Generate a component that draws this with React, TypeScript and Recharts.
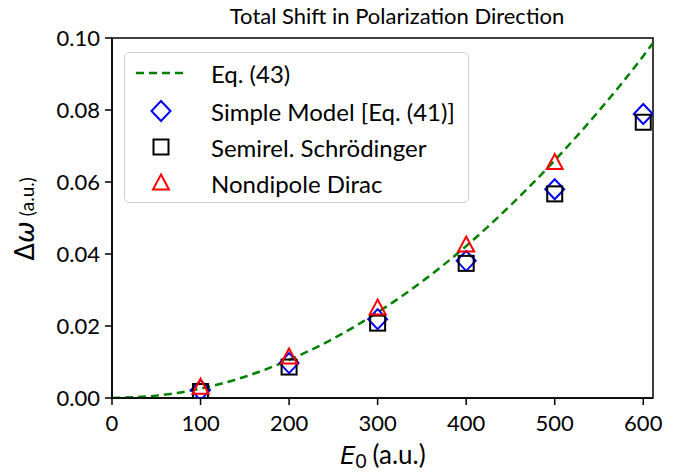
import React from 'react';
import {
  ComposedChart,
  Line,
  Scatter,
  XAxis,
  YAxis,
  ReferenceArea,
} from 'recharts';

// Eq. (43) curve
const curveX = [0, 50, 100, 150, 200, 250, 300, 350, 400, 450, 500, 550, 600, 611];
const curveY = [0, 0.00066, 0.0026, 0.0059, 0.0106, 0.0165, 0.0238, 0.0323, 0.0422, 0.0535, 0.066, 0.0798, 0.095, 0.0986];

// field strengths for the markers
const fieldX = [100, 200, 300, 400, 500, 600];
const simpleModel = [0.0022, 0.0097, 0.0219, 0.0381, 0.058, 0.0789];
const semirel = [0.0018, 0.0086, 0.0208, 0.0374, 0.0567, 0.0766];
const dirac = [0.003, 0.0114, 0.025, 0.0425, 0.0654];

const xTicks = [0, 100, 200, 300, 400, 500, 600];
const yTicks = [0, 0.02, 0.04, 0.06, 0.08, 0.1];

const FONT = 'Lato, "Open Sans", sans-serif';
const MATH = '"DejaVu Sans", sans-serif';
const W = 685;
const H = 476;

const curveData = curveX.map((x, i) => ({ x, y: curveY[i] }));
const simpleData = fieldX.map((x, i) => ({ x, y: simpleModel[i] }));
const semirelData = fieldX.map((x, i) => ({ x, y: semirel[i] }));
const diracData = dirac.map((y, i) => ({ x: fieldX[i], y }));

const Diamond = ({ cx, cy }: any) => (
  <path
    d={`M${cx},${cy - 10} L${cx + 9.5},${cy} L${cx},${cy + 10} L${cx - 9.5},${cy} Z`}
    fill="none"
    stroke="#0000ff"
    strokeWidth={2}
  />
);

const Square = ({ cx, cy }: any) => (
  <rect x={cx - 7.5} y={cy - 7.5} width={15} height={15} fill="none" stroke="#000" strokeWidth={2} />
);

const Triangle = ({ cx, cy }: any) => (
  <path
    d={`M${cx},${cy - 8.5} L${cx + 8},${cy + 6.5} L${cx - 8},${cy + 6.5} Z`}
    fill="none"
    stroke="#ff0000"
    strokeWidth={2}
  />
);

const YLabel = () => (
  <text transform="rotate(-90, 34, 219)" x={34} y={219} textAnchor="middle" fontFamily={FONT} fill="#000">
    <tspan fontSize={26} fontFamily={MATH}>Δ</tspan>
    <tspan fontSize={26} fontFamily={MATH} fontStyle="italic">ω</tspan>
    <tspan fontSize={19} dx={5}>(a.u.)</tspan>
  </text>
);

const XLabel = () => (
  <text x={383} y={464} textAnchor="middle" fontFamily={FONT} fill="#000" fontSize={26}>
    <tspan fontFamily={MATH} fontStyle="italic" fontSize={24}>E</tspan>
    <tspan fontSize={19} dy={4}>0</tspan>
    <tspan dy={-4} dx={6}>(a.u.)</tspan>
  </text>
);

function LegendBox() {
  const rows = [
    { label: 'Eq. (43)', icon: <line x1={11} y1={11} x2={63} y2={11} stroke="#008000" strokeWidth={2.5} strokeDasharray="8 5" /> },
    { label: 'Simple Model [Eq. (41)]', icon: <Diamond cx={36} cy={11} /> },
    { label: 'Semirel. Schrödinger', icon: <Square cx={36} cy={11} /> },
    { label: 'Nondipole Dirac', icon: <Triangle cx={36} cy={11} /> },
  ];
  return (
    <div
      style={{
        position: 'absolute',
        left: 124,
        top: 52,
        width: 345,
        height: 151,
        boxSizing: 'border-box',
        border: '1.5px solid #d0d0d0',
        borderRadius: 5,
        background: 'rgba(255,255,255,0.8)',
        fontFamily: FONT,
        fontSize: 24,
        color: '#000',
      }}
    >
      {rows.map((r, i) => (
        <div
          key={r.label}
          style={{ position: 'absolute', left: 0, top: [8, 46, 82, 118][i], height: 24, display: 'flex', alignItems: 'center' }}
        >
          <svg width={86} height={22} style={{ overflow: 'visible' }}>
            {r.icon}
          </svg>
          <span style={{ whiteSpace: 'nowrap' }}>{r.label}</span>
        </div>
      ))}
    </div>
  );
}

export default function App() {
  return (
    <div style={{ position: 'absolute', left: 0, top: 0, width: W, height: H, background: '#fff' }}>
      <ComposedChart width={W} height={H} margin={{ top: 38, right: 32, bottom: 0, left: 0 }}>
        <text x={397} y={24} textAnchor="middle" fontFamily={FONT} fontSize={22} fill="#000">
          Total Shift in Polarization Direction
        </text>
        <XAxis
          type="number"
          dataKey="x"
          domain={[0, 611]}
          ticks={xTicks}
          allowDataOverflow
          height={78}
          tickSize={7}
          tickMargin={10}
          tick={{ fill: '#000', fontSize: 22, fontFamily: FONT }}
          axisLine={{ stroke: '#000', strokeWidth: 1.5 }}
          tickLine={{ stroke: '#000', strokeWidth: 1.5 }}
        />
        <YAxis
          type="number"
          dataKey="y"
          domain={[0, 0.1]}
          ticks={yTicks}
          allowDataOverflow
          width={112}
          tickSize={7}
          tickMargin={5}
          tickFormatter={(v: number) => v.toFixed(2)}
          tick={{ fill: '#000', fontSize: 22, fontFamily: FONT }}
          axisLine={{ stroke: '#000', strokeWidth: 1.5 }}
          tickLine={{ stroke: '#000', strokeWidth: 1.5 }}
        />
        <ReferenceArea x1={0} x2={611} y1={0} y2={0.1} fill="none" stroke="#000" strokeWidth={1.5} ifOverflow="visible" />
        <Line
          data={curveData}
          dataKey="y"
          type="monotone"
          stroke="#008000"
          strokeWidth={2.5}
          strokeDasharray="8 5"
          dot={false}
          activeDot={false}
          isAnimationActive={false}
        />
        <Scatter data={simpleData} dataKey="y" shape={Diamond} isAnimationActive={false} />
        <Scatter data={semirelData} dataKey="y" shape={Square} isAnimationActive={false} />
        <Scatter data={diracData} dataKey="y" shape={Triangle} isAnimationActive={false} />
        <YLabel />
        <XLabel />
      </ComposedChart>
      <LegendBox />
    </div>
  );
}
